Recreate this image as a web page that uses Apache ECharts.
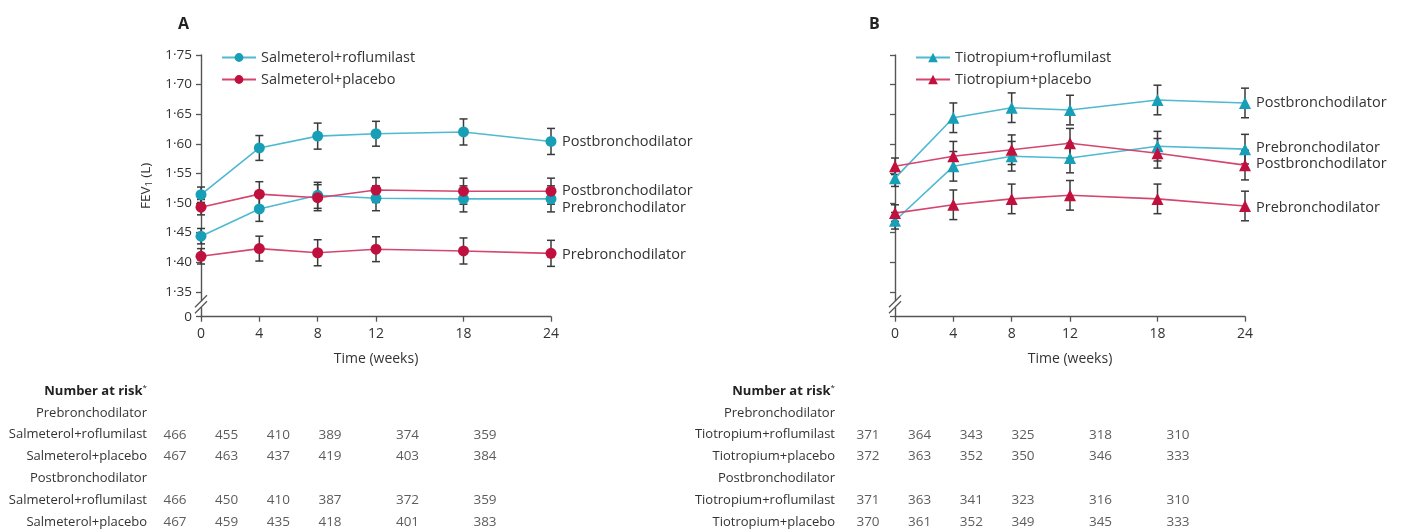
<!DOCTYPE html>
<html>
<head>
<meta charset="utf-8">
<script src="https://cdn.jsdelivr.net/npm/echarts@6/dist/echarts.min.js"></script>
<style>
  html, body { margin: 0; padding: 0; background: #fff; }
  #main { width: 1408px; height: 532px; }
</style>
</head>
<body>
<div id="main"></div>
<script>
// time points (weeks)
const weeks = [0, 4, 8, 12, 18, 24];

// A: salmeterol, FEV1 (L)
const salRofPost = [1.514, 1.593, 1.613, 1.617, 1.620, 1.604];
const salRofPre = [1.444, 1.490, 1.513, 1.508, 1.507, 1.507];
const salPlaPost = [1.493, 1.515, 1.509, 1.522, 1.520, 1.520];
const salPlaPre = [1.410, 1.423, 1.416, 1.422, 1.419, 1.415];
const errA = [0.013, 0.021, 0.022, 0.021, 0.022, 0.022];

// B: tiotropium, FEV1 (L)
const tioRofPost = [1.542, 1.644, 1.661, 1.657, 1.674, 1.669];
const tioRofPre = [1.470, 1.562, 1.579, 1.576, 1.596, 1.591];
const tioPlaPost = [1.562, 1.579, 1.590, 1.601, 1.584, 1.564];
const tioPlaPre = [1.483, 1.497, 1.507, 1.513, 1.507, 1.495];
const errB = [0.014, 0.025, 0.025, 0.025, 0.025, 0.025];

// number at risk
const riskSalRofPre = [466, 455, 410, 389, 374, 359];
const riskSalPlaPre = [467, 463, 437, 419, 403, 384];
const riskSalRofPost = [466, 450, 410, 387, 372, 359];
const riskSalPlaPost = [467, 459, 435, 418, 401, 383];
const riskTioRofPre = [371, 364, 343, 325, 318, 310];
const riskTioPlaPre = [372, 363, 352, 350, 346, 333];
const riskTioRofPost = [371, 363, 341, 323, 316, 310];
const riskTioPlaPost = [370, 361, 352, 349, 345, 333];

const rowsA = ["Number at risk*", "Prebronchodilator", "Salmeterol+roflumilast", "Salmeterol+placebo",
  "Postbronchodilator", "Salmeterol+roflumilast", "Salmeterol+placebo"];
const rowsB = ["Number at risk*", "Prebronchodilator", "Tiotropium+roflumilast", "Tiotropium+placebo",
  "Postbronchodilator", "Tiotropium+roflumilast", "Tiotropium+placebo"];

const yMin = 1.308; // axis break: "0" sits just below 1·35
const yMax = 1.75;

const FONT = "Open Sans";
const CYAN = "#179fb8";
const CYAN_LINE = "#4fb9cf";
const RED = "#c0103e";
const RED_LINE = "#d4466f";
const AXIS = "#555";
const TXT = "#333";

(function () {
  const chart = echarts.init(document.getElementById("main"));

  function lineSeries(name, idx, vals, color, lineColor, symbol, label, dy) {
    return {
      type: "line",
      name: name,
      xAxisIndex: idx,
      yAxisIndex: idx,
      z: 4,
      data: weeks.map(function (w, i) { return [w, vals[i]]; }),
      symbol: symbol,
      symbolSize: symbol === "triangle" ? 12 : 11,
      itemStyle: { color: color },
      lineStyle: { color: lineColor, width: 1.6 },
      endLabel: {
        show: true,
        formatter: label,
        distance: 11,
        offset: [0, dy],
        color: TXT,
        fontSize: 14.5,
        fontFamily: FONT,
      },
      emphasis: { disabled: true },
    };
  }

  function errSeries(idx, vals, errs) {
    return {
      type: "custom",
      name: "err",
      xAxisIndex: idx,
      yAxisIndex: idx,
      z: 3,
      silent: true,
      data: weeks.map(function (w, i) { return [w, vals[i] - errs[i], vals[i] + errs[i]]; }),
      renderItem: function (params, api) {
        const lo = api.coord([api.value(0), api.value(1)]);
        const hi = api.coord([api.value(0), api.value(2)]);
        const w = 4;
        const st = { stroke: "#3a3a3a", lineWidth: 1.5 };
        return {
          type: "group",
          children: [
            { type: "line", shape: { x1: lo[0], y1: lo[1], x2: hi[0], y2: hi[1] }, style: st },
            { type: "line", shape: { x1: lo[0] - w, y1: lo[1], x2: lo[0] + w, y2: lo[1] }, style: st },
            { type: "line", shape: { x1: hi[0] - w, y1: hi[1], x2: hi[0] + w, y2: hi[1] }, style: st },
          ],
        };
      },
    };
  }

  function riskSeries(idx, rows) {
    const data = [];
    rows.forEach(function (r) {
      r.vals.forEach(function (v, i) { data.push([weeks[i], r.row, v]); });
    });
    return {
      type: "scatter",
      xAxisIndex: idx,
      yAxisIndex: idx,
      symbolSize: 1,
      itemStyle: { color: "rgba(0,0,0,0)" },
      silent: true,
      data: data,
      label: {
        show: true,
        position: "inside",
        formatter: function (p) { return p.value[2]; },
        color: TXT,
        fontSize: 13.5,
        fontFamily: FONT,
      },
    };
  }

  function plotX(grid) {
    return {
      gridIndex: grid,
      type: "value",
      min: 0,
      max: 24,
      name: "Time (weeks)",
      nameLocation: "middle",
      nameGap: 35,
      nameTextStyle: { color: TXT, fontSize: 14, fontFamily: FONT },
      axisLine: { lineStyle: { color: AXIS, width: 1.4 } },
      axisTick: { length: 5, customValues: weeks, lineStyle: { color: AXIS, width: 1.3 } },
      axisLabel: { customValues: weeks, color: TXT, fontSize: 14, fontFamily: FONT, margin: 10 },
      splitLine: { show: false },
    };
  }

  function plotY(grid, showLabels) {
    return {
      gridIndex: grid,
      type: "value",
      min: yMin,
      max: yMax,
      splitNumber: 9,
      name: showLabels ? "FEV{s|1} (L)" : "",
      nameLocation: "middle",
      nameRotate: 90,
      nameGap: 47,
      nameTextStyle: {
        color: TXT, fontSize: 13.5, fontFamily: FONT,
        rich: { s: { fontSize: 9, fontFamily: FONT, color: TXT, padding: [6, 0, 0, 0] } },
      },
      axisLine: { show: true, lineStyle: { color: AXIS, width: 1.4 } },
      axisTick: { show: true, length: 5, lineStyle: { color: AXIS, width: 1.3 } },
      axisLabel: {
        show: showLabels,
        color: TXT,
        fontSize: 13.5,
        fontFamily: FONT,
        margin: 9,
        formatter: function (v) {
          return v < 1.33 ? "0" : v.toFixed(2).replace(".", "\u00b7");
        },
      },
      splitLine: { show: false },
    };
  }

  function tableX(grid) {
    return { gridIndex: grid, type: "value", min: 0, max: 24, show: false };
  }

  function tableY(grid, rows, margin) {
    return {
      gridIndex: grid,
      type: "value",
      min: 0,
      max: 6,
      interval: 1,
      inverse: true,
      axisLine: { show: false },
      axisTick: { show: false },
      splitLine: { show: false },
      axisLabel: {
        margin: margin,
        color: TXT,
        fontSize: 13,
        fontFamily: FONT,
        formatter: function (v) {
          return v === 0 ? "{b|Number at risk}{sup|*}" : rows[v];
        },
        rich: {
          b: { fontWeight: "bold", fontSize: 13, fontFamily: FONT, color: "#222" },
          sup: { fontSize: 8, fontFamily: FONT, color: "#222", padding: [0, 0, 6, 0] },
        },
      },
    };
  }

  const option = {
    animation: false,
    backgroundColor: "#fff",
    textStyle: { fontFamily: FONT },
    title: [
      { text: "A", left: 173, top: 11, textStyle: { fontSize: 16, fontWeight: "bold", color: "#222", fontFamily: FONT } },
      { text: "B", left: 864, top: 11, textStyle: { fontSize: 16, fontWeight: "bold", color: "#222", fontFamily: FONT } },
    ],
    legend: [
      {
        data: ["Salmeterol+roflumilast", "Salmeterol+placebo"],
        orient: "vertical",
        left: 216,
        top: 45,
        itemWidth: 34,
        itemHeight: 11,
        itemGap: 7,
        textStyle: { color: TXT, fontSize: 14.5, fontFamily: FONT },
        selectedMode: false,
      },
      {
        data: ["Tiotropium+roflumilast", "Tiotropium+placebo"],
        orient: "vertical",
        left: 910,
        top: 45,
        itemWidth: 34,
        itemHeight: 12,
        itemGap: 7,
        textStyle: { color: TXT, fontSize: 14.5, fontFamily: FONT },
        selectedMode: false,
      },
    ],
    grid: [
      { left: 201, top: 55, width: 350, height: 261.7 },
      { left: 895, top: 55, width: 350, height: 261.7 },
      { left: 175, top: 391, width: 310, height: 131 },
      { left: 868, top: 391, width: 310, height: 131 },
    ],
    xAxis: [plotX(0), plotX(1), tableX(2), tableX(3)],
    yAxis: [plotY(0, true), plotY(1, false), tableY(2, rowsA, 28), tableY(3, rowsB, 33)],
    series: [
      errSeries(0, salRofPost, errA),
      errSeries(0, salRofPre, errA),
      errSeries(0, salPlaPost, errA),
      errSeries(0, salPlaPre, errA),
      lineSeries("Salmeterol+roflumilast", 0, salRofPost, CYAN, CYAN_LINE, "circle", "Postbronchodilator", 0),
      lineSeries("Salmeterol+roflumilast", 0, salRofPre, CYAN, CYAN_LINE, "circle", "Prebronchodilator", 9),
      lineSeries("Salmeterol+placebo", 0, salPlaPost, RED, RED_LINE, "circle", "Postbronchodilator", 0),
      lineSeries("Salmeterol+placebo", 0, salPlaPre, RED, RED_LINE, "circle", "Prebronchodilator", 2),

      errSeries(1, tioRofPost, errB),
      errSeries(1, tioRofPre, errB),
      errSeries(1, tioPlaPost, errB),
      errSeries(1, tioPlaPre, errB),
      lineSeries("Tiotropium+roflumilast", 1, tioRofPost, CYAN, CYAN_LINE, "triangle", "Postbronchodilator", 0),
      lineSeries("Tiotropium+roflumilast", 1, tioRofPre, CYAN, CYAN_LINE, "triangle", "Prebronchodilator", -1),
      lineSeries("Tiotropium+placebo", 1, tioPlaPost, RED, RED_LINE, "triangle", "Postbronchodilator", -1),
      lineSeries("Tiotropium+placebo", 1, tioPlaPre, RED, RED_LINE, "triangle", "Prebronchodilator", 2),

      riskSeries(2, [
        { row: 2, vals: riskSalRofPre },
        { row: 3, vals: riskSalPlaPre },
        { row: 5, vals: riskSalRofPost },
        { row: 6, vals: riskSalPlaPost },
      ]),
      riskSeries(3, [
        { row: 2, vals: riskTioRofPre },
        { row: 3, vals: riskTioPlaPre },
        { row: 5, vals: riskTioRofPost },
        { row: 6, vals: riskTioPlaPost },
      ]),
    ],
  };
  chart.setOption(option);

  // axis break marks "//" between 1·35 and 0
  const breaks = [];
  [0, 1].forEach(function (g) {
    const p = chart.convertToPixel({ gridIndex: g }, [0, (1.35 + yMin) / 2]);
    const x = p[0];
    const y = p[1];
    breaks.push({
      type: "rect",
      shape: { x: x - 3, y: y - 3, width: 6, height: 6 },
      style: { fill: "#fff" },
      z: 10,
    });
    [-3, 3].forEach(function (d) {
      breaks.push({
        type: "line",
        shape: { x1: x - 6, y1: y + d + 6, x2: x + 6, y2: y + d - 6 },
        style: { stroke: AXIS, lineWidth: 1.3 },
        z: 11,
      });
    });
  });
  chart.setOption({ graphic: breaks });

  window.addEventListener("resize", function () {
    chart.resize();
  });
})();
</script>
</body>
</html>
